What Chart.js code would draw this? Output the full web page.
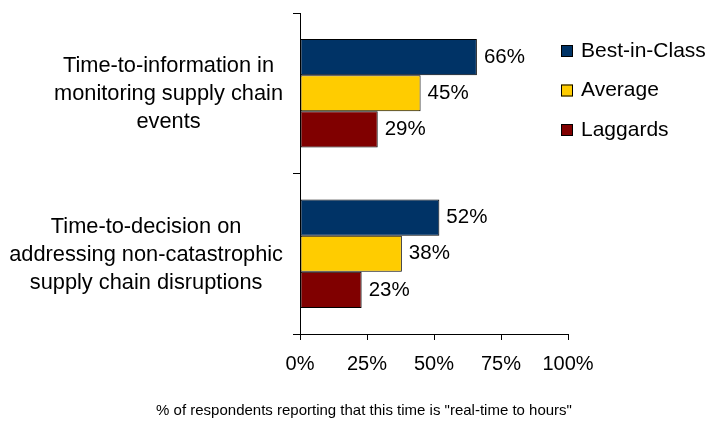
<!DOCTYPE html>
<html>
<head>
<style>body{margin:0;background:#fff}</style>
</head>
<body>
<canvas id="chart" width="709" height="421"></canvas>
<script src="https://cdn.jsdelivr.net/npm/chart.js@4.4.0/dist/chart.umd.min.js"></script>
<script>
const categories = [
    ["Time-to-information in", "monitoring supply chain", "events"],
    ["Time-to-decision on", "addressing non-catastrophic", "supply chain disruptions"]
];
const seriesNames = ["Best-in-Class", "Average", "Laggards"];
const bestInClass = [66, 52];
const average = [45, 38];
const laggards = [29, 23];
const xTicks = [0, 25, 50, 75, 100];
const colours = ["#003366", "#FFCC00", "#800000"];
const xTitle = '% of respondents reporting that this time is "real-time to hours"';

const FONT = "'Liberation Sans', Arial, sans-serif";

// labels next to bars, category labels, legend and bottom title
const extras = {
    id: "extras",
    afterDatasetsDraw(chart) {
        const ctx = chart.ctx;
        ctx.save();
        ctx.font = "20.5px " + FONT;
        ctx.fillStyle = "#000";
        ctx.textBaseline = "middle";
        ctx.textAlign = "left";
        chart.data.datasets.forEach((ds, i) => {
            chart.getDatasetMeta(i).data.forEach((bar, j) => {
                ctx.fillText(ds.data[j] + "%", bar.x + 7, bar.y);
            });
        });
        ctx.restore();
    },
    afterDraw(chart) {
        const ctx = chart.ctx;
        const y = chart.scales.y;
        ctx.save();
        ctx.fillStyle = "#000";
        ctx.textBaseline = "middle";

        // category labels: each block right aligned, lines centred in the block
        ctx.font = "21.8px " + FONT;
        ctx.textAlign = "center";
        categories.forEach((lines, i) => {
            const w = Math.max(...lines.map(l => ctx.measureText(l).width));
            const cx = y.right - 17 - w / 2;
            const cy = y.getPixelForValue(i);
            lines.forEach((l, j) => {
                ctx.fillText(l, cx, cy + 1 + (j - (lines.length - 1) / 2) * 28);
            });
        });

        // legend
        ctx.font = "21px " + FONT;
        ctx.textAlign = "left";
        chart.data.datasets.forEach((ds, i) => {
            const ly = 51 + i * 39.5;
            ctx.fillStyle = ds.backgroundColor;
            ctx.fillRect(561, ly - 6, 12, 12);
            ctx.strokeStyle = "#000";
            ctx.lineWidth = 1;
            ctx.strokeRect(561.5, ly - 5.5, 11, 11);
            ctx.fillStyle = "#000";
            ctx.fillText(ds.label, 581, ly);
        });

        // bottom title
        ctx.font = "15px " + FONT;
        ctx.textAlign = "center";
        ctx.fillText(xTitle, 364, 411);
        ctx.restore();
    }
};

new Chart(document.getElementById("chart"), {
    type: "bar",
    data: {
        labels: categories,
        datasets: [
            { label: seriesNames[0], data: bestInClass, backgroundColor: colours[0] },
            { label: seriesNames[1], data: average, backgroundColor: colours[1] },
            { label: seriesNames[2], data: laggards, backgroundColor: colours[2] }
        ]
    },
    options: {
        indexAxis: "y",
        responsive: false,
        animation: false,
        devicePixelRatio: 1,
        layout: { padding: { left: 0, right: 141, top: 13, bottom: 0 } },
        datasets: {
            bar: {
                borderColor: "#000",
                borderWidth: 1,
                borderSkipped: false,
                barPercentage: 1,
                categoryPercentage: 0.675
            }
        },
        scales: {
            x: {
                min: 0,
                max: 100,
                afterBuildTicks: s => { s.ticks = xTicks.map(v => ({ value: v })); },
                afterFit: s => { s.height = 87; },
                grid: { drawOnChartArea: false, color: "#000", tickLength: 6 },
                border: { color: "#000" },
                ticks: {
                    padding: 12,
                    color: "#000",
                    font: { size: 20, family: FONT },
                    callback: v => v + "%"
                }
            },
            y: {
                afterFit: s => { s.width = 300; },
                grid: { drawOnChartArea: false, color: "#000", tickLength: 7 },
                border: { color: "#000" },
                ticks: { display: false }
            }
        },
        plugins: {
            legend: { display: false },
            tooltip: { enabled: false }
        }
    },
    plugins: [extras]
});
</script>
</body>
</html>
